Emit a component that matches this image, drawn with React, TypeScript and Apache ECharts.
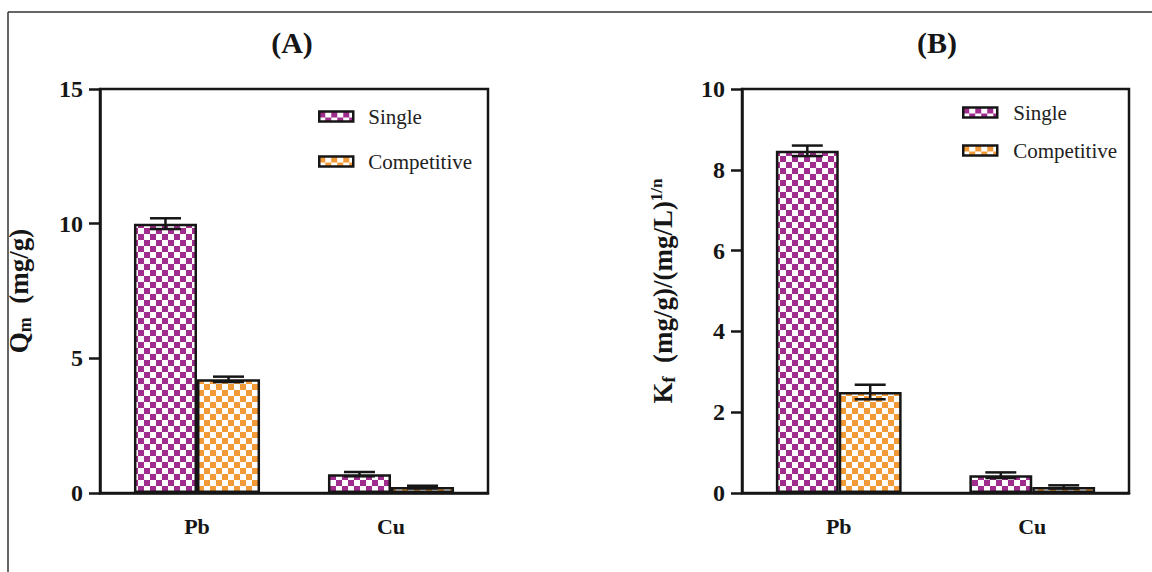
import React, { useEffect, useRef } from "react";
import * as echarts from "echarts";

// Metals on the x axis
const categories = ["Pb", "Cu"];

// Panel (A): maximum adsorption capacity Qm (mg/g)
const qmSingle = [10.0, 0.7];
const qmSingleErr = [0.2, 0.08];
const qmCompetitive = [4.22, 0.22];
const qmCompetitiveErr = [0.1, 0.05];

// Panel (B): Freundlich constant Kf
const kfSingle = [8.47, 0.44];
const kfSingleErr = [0.13, 0.07];
const kfCompetitive = [2.5, 0.15];
const kfCompetitiveErr = [0.18, 0.04];

// Axis ranges and tick steps
const qmAxis = { min: 0, max: 15, interval: 5 };
const kfAxis = { min: 0, max: 10, interval: 2 };

const seriesNames = ["Single", "Competitive"];
const panelTitles = ["(A)", "(B)"];

const SERIF = "'Times New Roman', 'Liberation Serif', serif";
const PURPLE = "#A02C8E";
const ORANGE = "#F39A38";
const INK = "#161616";

const CELL = 6;
const BAR_W = 0.325;

function checker(color: string) {
  const c = document.createElement("canvas");
  c.width = CELL * 2;
  c.height = CELL * 2;
  const ctx = c.getContext("2d")!;
  ctx.fillStyle = "#ffffff";
  ctx.fillRect(0, 0, c.width, c.height);
  ctx.fillStyle = color;
  ctx.fillRect(0, 0, CELL, CELL);
  ctx.fillRect(CELL, CELL, CELL, CELL);
  return {
    image: c,
    repeat: "repeat",
    imageWidth: CELL * 2,
    imageHeight: CELL * 2,
  } as any;
}

export default function App() {
  const ref = useRef<HTMLDivElement>(null);

  useEffect(() => {
    if (!ref.current) return;
    const chart = echarts.init(ref.current, undefined, { renderer: "svg" });

    const purpleFill = checker(PURPLE);
    const orangeFill = checker(ORANGE);

    const errRender = (side: number) => (params: any, api: any) => {
      const idx = api.value(0);
      const v = api.value(1);
      const e = api.value(2);
      const band = api.size([1, 0])[0];
      const x = api.coord([idx, v])[0] + side * band * (BAR_W / 2);
      const yTop = api.coord([idx, v + e])[1];
      const yBot = api.coord([idx, v - e])[1];
      const half = band * 0.08;
      const style = { stroke: INK, lineWidth: 2.5 };
      return {
        type: "group",
        children: [
          { type: "line", shape: { x1: x, y1: yTop, x2: x, y2: yBot }, style },
          { type: "line", shape: { x1: x - half, y1: yTop, x2: x + half, y2: yTop }, style },
          { type: "line", shape: { x1: x - half, y1: yBot, x2: x + half, y2: yBot }, style },
        ],
      };
    };

    const grids = [
      { left: 100, top: 89, width: 388, height: 404 },
      { left: 742, top: 89, width: 387, height: 404 },
    ];

    const xAxisBase = (gridIndex: number) => ({
      type: "category",
      gridIndex,
      data: categories,
      axisLine: { lineStyle: { color: INK, width: 2.5 } },
      axisTick: { alignWithLabel: true, length: 12, lineStyle: { color: INK, width: 2.5 } },
      axisLabel: {
        margin: 22,
        color: INK,
        fontFamily: SERIF,
        fontWeight: "bold",
        fontSize: 22,
      },
    });

    const yAxisBase = (gridIndex: number, range: any, name: string, rich: any, gap: number) => ({
      type: "value",
      gridIndex,
      ...range,
      name,
      nameLocation: "middle",
      nameRotate: 90,
      nameGap: gap,
      nameTextStyle: { rich },
      splitLine: { show: false },
      axisLine: { show: true, lineStyle: { color: INK, width: 2.5 } },
      axisTick: { show: true, length: 11, lineStyle: { color: INK, width: 2.5 } },
      axisLabel: {
        margin: 17,
        color: INK,
        fontFamily: SERIF,
        fontWeight: "bold",
        fontSize: 24,
      },
    });

    const nameRich = {
      b: { fontFamily: SERIF, fontWeight: "bold", fontSize: 27, color: INK, lineHeight: 30 },
      s: {
        fontFamily: SERIF,
        fontWeight: "bold",
        fontSize: 18,
        color: INK,
        lineHeight: 26,
        verticalAlign: "bottom",
      },
      p: {
        fontFamily: SERIF,
        fontWeight: "bold",
        fontSize: 17,
        color: INK,
        lineHeight: 30,
        verticalAlign: "top",
      },
    };

    const barSeries = (name: string, xi: number, data: number[], fill: any) => ({
      type: "bar",
      name,
      xAxisIndex: xi,
      yAxisIndex: xi,
      data,
      barWidth: BAR_W * 100 + "%",
      barGap: "0%",
      itemStyle: { color: fill, borderColor: INK, borderWidth: 2.5 },
      z: 2,
    });

    const errSeries = (xi: number, vals: number[], errs: number[], side: number) => ({
      type: "custom",
      xAxisIndex: xi,
      yAxisIndex: xi,
      data: vals.map((v, i) => [i, v, errs[i]]),
      encode: { x: 0, y: 1 },
      renderItem: errRender(side),
      z: 5,
      silent: true,
    });

    const legendBase = (left: number, top: number, gap: number, pad: number) => ({
      orient: "vertical",
      left,
      top,
      itemGap: gap,
      itemWidth: 34,
      itemHeight: 10,
      icon: "rect",
      data: seriesNames,
      itemStyle: { borderColor: INK, borderWidth: 2.5 },
      textStyle: {
        fontFamily: SERIF,
        fontSize: 21,
        color: "#222",
        lineHeight: 20,
        padding: [0, 0, 0, pad],
      },
    });

    chart.setOption({
      animation: false,
      backgroundColor: "#ffffff",
      grid: grids.map((g) => ({
        ...g,
        show: true,
        borderColor: INK,
        borderWidth: 2.5,
        backgroundColor: "transparent",
      })),
      xAxis: [xAxisBase(0), xAxisBase(1)],
      yAxis: [
        yAxisBase(0, qmAxis, "{b|Q}{s|m}{b|  (mg/g)}", nameRich, 66),
        yAxisBase(1, kfAxis, "{b|K}{s|f}{b|  (mg/g)/(mg/L)}{p|1/n}", nameRich, 64),
      ],
      legend: [legendBase(313, 101, 24, 10), legendBase(957, 97, 17, 11)],
      series: [
        barSeries(seriesNames[0], 0, qmSingle, purpleFill),
        barSeries(seriesNames[1], 0, qmCompetitive, orangeFill),
        errSeries(0, qmSingle, qmSingleErr, -1),
        errSeries(0, qmCompetitive, qmCompetitiveErr, 1),
        barSeries(seriesNames[0], 1, kfSingle, purpleFill),
        barSeries(seriesNames[1], 1, kfCompetitive, orangeFill),
        errSeries(1, kfSingle, kfSingleErr, -1),
        errSeries(1, kfCompetitive, kfCompetitiveErr, 1),
      ],
      graphic: [
        {
          type: "line",
          shape: { x1: 8, y1: 12, x2: 1152, y2: 12 },
          style: { stroke: "#333", lineWidth: 1.5 },
        },
        {
          type: "line",
          shape: { x1: 8, y1: 12, x2: 8, y2: 572 },
          style: { stroke: "#333", lineWidth: 1.5 },
        },
        {
          type: "text",
          x: 292,
          y: 42,
          style: {
            text: panelTitles[0],
            fill: INK,
            font: `bold 30px ${SERIF}`,
            textAlign: "center",
            textVerticalAlign: "middle",
          },
        },
        {
          type: "text",
          x: 937,
          y: 42,
          style: {
            text: panelTitles[1],
            fill: INK,
            font: `bold 30px ${SERIF}`,
            textAlign: "center",
            textVerticalAlign: "middle",
          },
        },
      ],
    });

    return () => chart.dispose();
  }, []);

  return (
    <div
      ref={ref}
      style={{ position: "fixed", left: 0, top: 0, width: 1152, height: 572, background: "#fff" }}
    />
  );
}
